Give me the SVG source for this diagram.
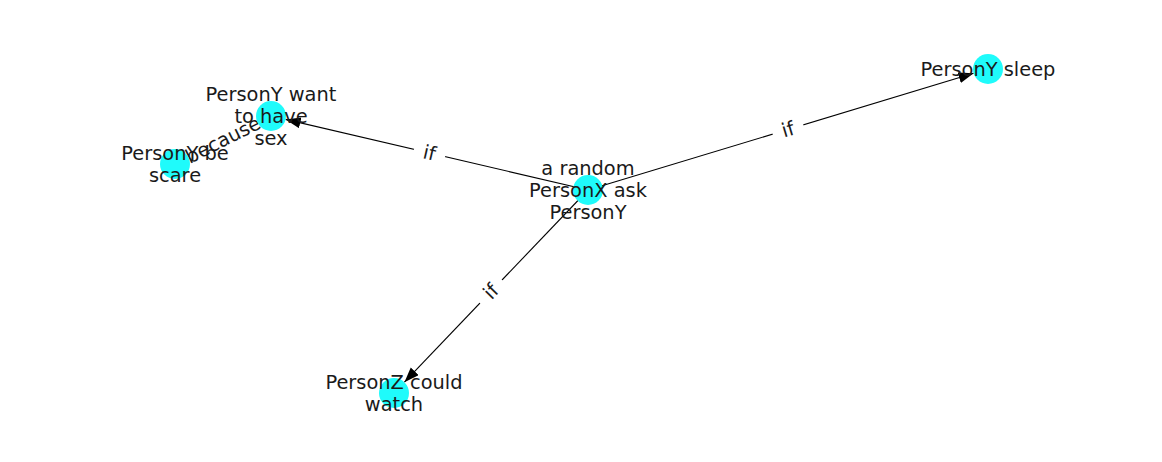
<svg xmlns="http://www.w3.org/2000/svg" width="1162" height="462" viewBox="0 0 1162 462">
<defs>
<style>
.edge{stroke:#000;stroke-width:1.1;fill:none;marker-end:url(#arr)}
.node circle{fill:#1ffbfb}
text{font-family:"DejaVu Sans","Liberation Sans",sans-serif;font-size:19.4px;fill:#1a1a1a;text-anchor:middle;dominant-baseline:central}
.lblbg{fill:#fff}
</style>
<marker id="arr" markerUnits="userSpaceOnUse" markerWidth="16" markerHeight="12" refX="15" refY="5.5" orient="auto">
<path d="M0,0 L15,5.5 L0,11 Z" fill="#000"/>
</marker>
</defs>
<rect width="1162" height="462" fill="#fff"/>
<g id="connectors">
<line class="edge" x1="588" y1="190" x2="285.6" y2="119.4"/>
<line class="edge" x1="588" y1="190" x2="973.6" y2="73.3"/>
<line class="edge" x1="588" y1="190" x2="404.4" y2="382.2"/>
<line class="edge" x1="271" y1="116" x2="188.4" y2="157.3"/>
</g>
<g id="edge_labels">
<g transform="translate(429.5,153) rotate(13.1)"><rect class="lblbg" x="-16" y="-14" width="32" height="28"/><text x="0" y="0">if</text></g>
<g transform="translate(788,129.5) rotate(-16.8)"><rect class="lblbg" x="-16" y="-14" width="32" height="28"/><text x="0" y="0">if</text></g>
<g transform="translate(491,291.5) rotate(-46.3)"><rect class="lblbg" x="-16" y="-14" width="32" height="28"/><text x="0" y="0">if</text></g>
<g transform="translate(223,140) rotate(-26.6)"><rect class="lblbg" x="-47" y="-14" width="94" height="28"/><text x="0" y="0">because</text></g>
</g>
<g id="n_center" class="node"><circle cx="588" cy="190" r="15"/>
<text x="588" y="168">a random</text><text x="588" y="190">PersonX ask</text><text x="588" y="212">PersonY</text></g>
<g id="n_want" class="node"><circle cx="271" cy="116" r="15"/>
<text x="271" y="94">PersonY want</text><text x="271" y="116">to have</text><text x="271" y="138">sex</text></g>
<g id="n_scare" class="node"><circle cx="175" cy="164" r="15"/>
<text x="175" y="153">PersonY be</text><text x="175" y="175">scare</text></g>
<g id="n_sleep" class="node"><circle cx="988" cy="69" r="15"/>
<text x="988" y="69">PersonY sleep</text></g>
<g id="n_watch" class="node"><circle cx="394" cy="393" r="15"/>
<text x="394" y="382">PersonZ could</text><text x="394" y="404">watch</text></g>
</svg>
